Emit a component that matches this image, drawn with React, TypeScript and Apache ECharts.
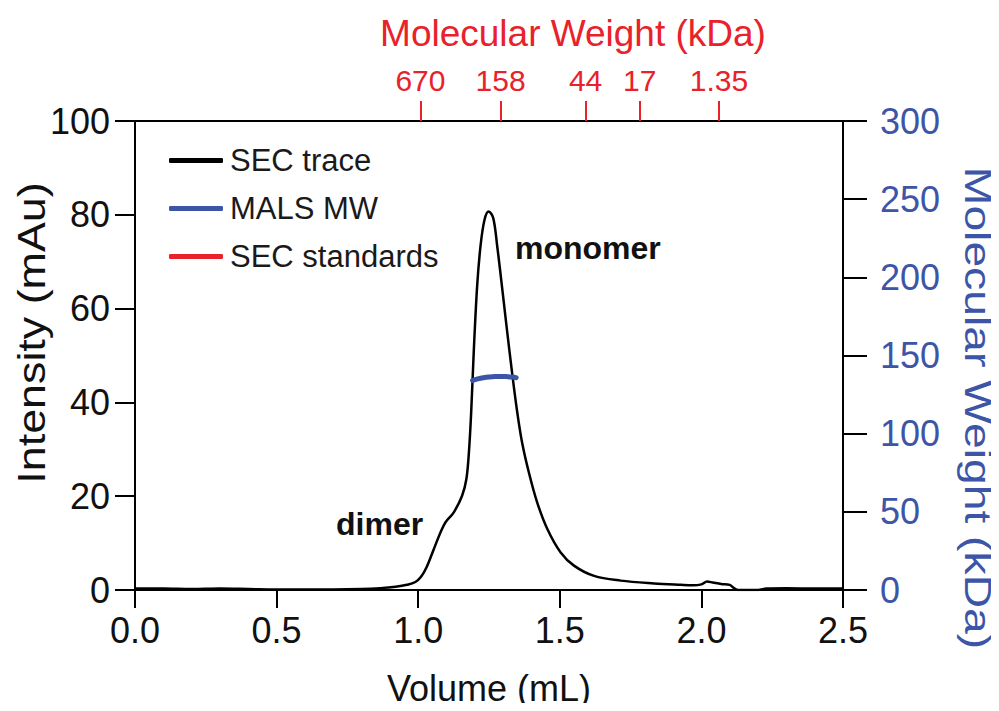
import React, { useEffect, useRef } from "react";
import * as echarts from "echarts";

// SEC trace (Volume mL, Intensity mAu)
const traceVolume = [
  0.0, 0.1, 0.2, 0.3, 0.4, 0.5, 0.6, 0.7, 0.8, 0.866, 0.92, 0.96, 0.99, 1.01, 1.03, 1.055,
  1.079, 1.096, 1.125, 1.155, 1.17, 1.179, 1.187, 1.196, 1.208, 1.22, 1.234, 1.249,
  1.265, 1.279, 1.293, 1.312, 1.332, 1.35, 1.367, 1.391, 1.42, 1.456, 1.503, 1.55,
  1.621, 1.715, 1.833, 1.927, 1.97, 2.0, 2.02, 2.04, 2.07, 2.1, 2.115, 2.13, 2.2,
  2.23, 2.3, 2.4, 2.5,
];
const traceIntensity = [
  0.3, 0.3, 0.2, 0.3, 0.2, 0.1, 0.1, 0.1, 0.2, 0.4, 0.7, 1.1, 1.7, 2.8, 4.9, 8.7,
  12.3, 14.4, 16.5, 20.1, 23.6, 29.3, 37.8, 50.6, 64.7, 73.3, 78.9, 80.7,
  79.3, 73.3, 66.2, 56.2, 46.1, 37.8, 31.4, 25.0, 18.7, 13.0, 8.0, 5.2,
  3.0, 2.0, 1.4, 1.1, 1.0, 1.2, 1.8, 1.6, 1.3, 1.1, 0.4, 0.0, 0.0,
  0.3, 0.35, 0.3, 0.3,
];

// MALS molecular weight (kDa)
const malsVolume = [1.192, 1.21, 1.23, 1.25, 1.27, 1.29, 1.31, 1.33, 1.346];
const malsMW = [134.0, 135.0, 135.8, 136.3, 136.5, 136.6, 136.5, 136.2, 135.8];

// SEC standards (top axis)
const standardsVolume = [1.008, 1.291, 1.591, 1.782, 2.062];
const standardsMW = ["670", "158", "44", "17", "1.35"];

const FONT = "Liberation Sans, Arial, Helvetica, sans-serif";
const RED = "#e8212b";
const BLUE = "#3d55a6";

export default function App() {
  const ref = useRef<HTMLDivElement>(null);
  useEffect(() => {
    if (!ref.current) return;
    const chart = echarts.init(ref.current, null, { renderer: "svg" });
    const trace = traceVolume.map((v, i) => [v, traceIntensity[i]]);
    const mals = malsVolume.map((v, i) => [v, malsMW[i]]);
    chart.setOption({
      animation: false,
      backgroundColor: "#ffffff",
      grid: { left: 135, right: 156, top: 121, bottom: 120, containLabel: false },
      legend: {
        orient: "vertical",
        left: 169,
        top: 145,
        padding: 0,
        itemGap: 17,
        itemWidth: 54,
        itemHeight: 5,
        icon: "roundRect",
        textStyle: { fontFamily: FONT, fontSize: 31, color: "#1a1a1a", lineHeight: 31, padding: [0, 0, 0, 2] },
        data: ["SEC trace", "MALS MW", "SEC standards"],
      },
      xAxis: [
        {
          type: "value",
          position: "bottom",
          min: 0,
          max: 2.5,
          interval: 0.5,
          axisLine: { show: true, onZero: false, lineStyle: { color: "#000", width: 2 } },
          axisTick: { show: true, inside: false, length: 18, lineStyle: { color: "#000", width: 2 } },
          axisLabel: {
            margin: 22,
            fontFamily: FONT,
            fontSize: 36,
            color: "#111",
            formatter: (v: number) => v.toFixed(1),
          },
          splitLine: { show: false },
          name: "Volume (mL)",
          nameLocation: "middle",
          nameGap: 80,
          nameTextStyle: { fontFamily: FONT, fontSize: 36, color: "#111" },
        },
        {
          type: "value",
          position: "top",
          min: 0,
          max: 2.5,
          axisLine: { show: true, onZero: false, lineStyle: { color: "#000", width: 2 } },
          axisTick: {
            show: true,
            inside: false,
            length: 20,
            customValues: standardsVolume,
            lineStyle: { color: RED, width: 2 },
          },
          axisLabel: {
            show: true,
            margin: 26,
            customValues: standardsVolume,
            fontFamily: FONT,
            fontSize: 30,
            color: RED,
            formatter: (v: number) => {
              let best = 0;
              standardsVolume.forEach((s, i) => {
                if (Math.abs(s - v) < Math.abs(standardsVolume[best] - v)) best = i;
              });
              return standardsMW[best];
            },
          },
          splitLine: { show: false },
        },
      ],
      yAxis: [
        {
          type: "value",
          position: "left",
          min: 0,
          max: 100,
          interval: 20,
          axisLine: { show: true, onZero: false, lineStyle: { color: "#000", width: 2 } },
          axisTick: { show: true, inside: false, length: 20, lineStyle: { color: "#000", width: 2 } },
          axisLabel: { margin: 25, fontFamily: FONT, fontSize: 36, color: "#111" },
          splitLine: { show: false },
        },
        {
          type: "value",
          position: "right",
          min: 0,
          max: 300,
          interval: 50,
          axisLine: { show: true, onZero: false, lineStyle: { color: "#000", width: 2 } },
          axisTick: { show: true, inside: false, length: 24, lineStyle: { color: "#000", width: 2 } },
          axisLabel: { margin: 37, fontFamily: FONT, fontSize: 36, color: BLUE },
          splitLine: { show: false },
        },
      ],
      series: [
        {
          name: "SEC trace",
          type: "line",
          xAxisIndex: 0,
          yAxisIndex: 0,
          data: trace,
          smooth: 0.35,
          showSymbol: false,
          color: "#000",
          lineStyle: { color: "#000", width: 2.5 },
          z: 3,
        },
        {
          name: "MALS MW",
          type: "line",
          xAxisIndex: 0,
          yAxisIndex: 1,
          data: mals,
          smooth: true,
          showSymbol: false,
          color: BLUE,
          lineStyle: { color: BLUE, width: 5, cap: "round" },
          z: 4,
        },
        {
          name: "SEC standards",
          type: "line",
          xAxisIndex: 1,
          yAxisIndex: 0,
          data: [],
          showSymbol: false,
          color: RED,
          lineStyle: { color: RED, width: 4 },
        },
      ],
      graphic: [
        {
          type: "text",
          x: 573,
          y: 33,
          style: { text: "Molecular Weight (kDa)", fontFamily: FONT, fontSize: 37, fill: RED, align: "center", verticalAlign: "middle" },
        },
        {
          type: "text",
          x: 32,
          y: 333,
          rotation: Math.PI / 2,
          scaleX: 1.18,
          style: { text: "Intensity (mAu)", fontFamily: FONT, fontSize: 38, fill: "#111", align: "center", verticalAlign: "middle" },
        },
        {
          type: "text",
          x: 978,
          y: 408,
          rotation: -Math.PI / 2,
          scaleX: 1.25,
          style: { text: "Molecular Weight (kDa)", fontFamily: FONT, fontSize: 37, fill: BLUE, align: "center", verticalAlign: "middle" },
        },
        {
          type: "text",
          x: 515,
          y: 248,
          style: { text: "monomer", fontFamily: FONT, fontSize: 32, fontWeight: "bold", fill: "#111", align: "left", verticalAlign: "middle" },
        },
        {
          type: "text",
          x: 336,
          y: 524,
          style: { text: "dimer", fontFamily: FONT, fontSize: 32, fontWeight: "bold", fill: "#111", align: "left", verticalAlign: "middle" },
        },
      ],
    });
    return () => chart.dispose();
  }, []);
  return <div ref={ref} style={{ width: 999, height: 711, margin: -8 }} />;
}
